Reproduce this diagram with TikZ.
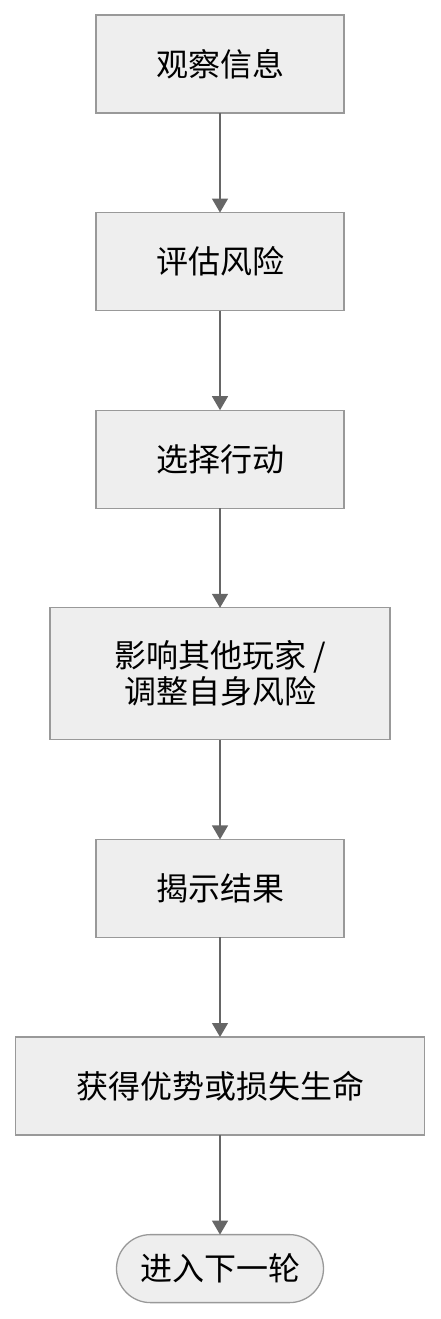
\documentclass[tikz,border=0pt]{standalone}
\usepackage{fontspec}
\setmainfont{Noto Sans CJK SC}
\usepackage{tikz}
\usetikzlibrary{positioning,arrows.meta}
\definecolor{boxfill}{HTML}{EEEEEE}
\definecolor{boxline}{HTML}{999999}
\definecolor{arrowline}{HTML}{666666}

\begin{document}
\begin{tikzpicture}[x=1pt,y=1pt,
  stepbox/.style = {draw=boxline, fill=boxfill, line width=1.3pt, inner sep=0pt, outer sep=0pt,
    minimum width=248pt, minimum height=98pt, align=center,
    font=\fontsize{32pt}{36pt}\selectfont},
  endbox/.style = {stepbox, rounded corners=34pt, minimum width=207pt, minimum height=68pt},
  flow/.style = {draw=arrowline, line width=1.3pt, -{Triangle[length=14pt,width=16pt]}},
  node distance = 99.6pt]
  \useasboundingbox (0,0) rectangle (440,-1319);
  \node [stepbox] (observe) at (220,-64) {观察信息};
  \node [stepbox, below = of observe] (assess) {评估风险};
  \node [stepbox, below = of assess] (choose) {选择行动};
  \node [stepbox, below = of choose, minimum width=340pt, minimum height=132pt] (affect) {影响其他玩家 /\\调整自身风险};
  \node [stepbox, below = of affect] (reveal) {揭示结果};
  \node [stepbox, below = of reveal, minimum width=409pt] (outcome) {获得优势或损失生命};
  \node [endbox, below = of outcome] (next) {进入下一轮};
  \draw [flow] (observe) -- (assess);
  \draw [flow] (assess) -- (choose);
  \draw [flow] (choose) -- (affect);
  \draw [flow] (affect) -- (reveal);
  \draw [flow] (reveal) -- (outcome);
  \draw [flow] (outcome) -- (next);
\end{tikzpicture}
\end{document}
